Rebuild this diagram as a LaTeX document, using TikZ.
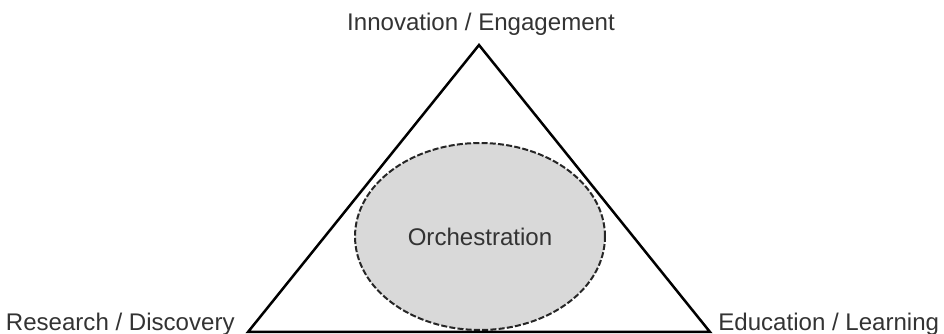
\documentclass[tikz,border=0pt]{standalone}
\usepackage{fontspec}
\setmainfont{Liberation Sans}
\usetikzlibrary{shapes.geometric,positioning}

\begin{document}
\begin{tikzpicture}
  [x=0.02cm,y=-0.02cm,
  every node/.style={font=\fontsize{13.7}{16}\selectfont,text=black!80,inner sep=0pt},
  corner label/.style={anchor=base},
  side/.style={line width=0.05cm,black,line join=miter},
  hub/.style={ellipse,draw=black!85,fill=black!15,dash pattern=on 0.12cm off 0.045cm,
    line width=0.04cm,minimum width=5cm,minimum height=3.74cm}]
  \useasboundingbox (0,0) rectangle (944,334);
  \coordinate (apex) at (479,45);
  \coordinate (left) at (248,332);
  \coordinate (right) at (710,332);
  \node [hub] (orch) at (480,236.5) {Orchestration};
  \draw [side] (apex) -- (left) -- (right) -- cycle;
  \node [corner label] (innov) at (481,31) {Innovation / Engagement};
  \node [corner label,anchor=base east] (research) at (235,331) {Research / Discovery};
  \node [corner label,anchor=base west] (educ) at (718,331) {Education / Learning};
\end{tikzpicture}
\end{document}
